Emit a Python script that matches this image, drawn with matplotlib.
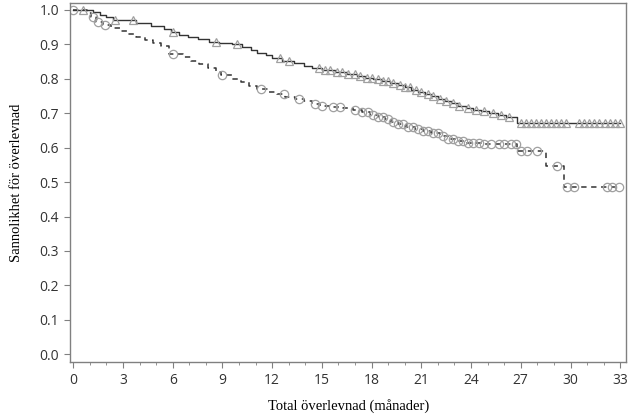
import numpy as np
import matplotlib.pyplot as plt

# group A (solid line, triangle censor marks): step times and survival after each step
a_times = [0, 1.2, 1.6, 2.0, 2.4, 3.8, 4.7, 5.5, 5.9, 6.4, 6.9, 7.5, 8.2, 8.8, 9.6,
           10.2, 10.7, 11.1, 11.6, 12.0, 12.6, 13.3, 13.9, 14.4, 15.0, 15.8, 16.5,
           17.1, 17.6, 18.1, 18.6, 19.1, 19.6, 20.0, 20.4, 20.8, 21.2, 21.6, 22.0,
           22.4, 22.8, 23.2, 23.7, 24.1, 24.6, 25.1, 25.6, 26.1, 26.8]
a_surv = [1.0, 0.993, 0.986, 0.979, 0.971, 0.962, 0.953, 0.944, 0.935, 0.928, 0.921,
          0.914, 0.908, 0.904, 0.9, 0.892, 0.884, 0.876, 0.868, 0.86, 0.852, 0.845,
          0.838, 0.832, 0.826, 0.82, 0.814, 0.808, 0.803, 0.798, 0.793, 0.788, 0.782,
          0.776, 0.768, 0.762, 0.755, 0.749, 0.742, 0.736, 0.729, 0.722, 0.716, 0.71,
          0.705, 0.7, 0.695, 0.688, 0.672]
a_end = 33.0
a_censor = [0.6, 2.5, 3.6, 6.0, 8.6, 9.9, 12.5, 13.0, 14.8, 15.2, 15.5, 15.9, 16.2,
            16.6, 17.0, 17.3, 17.7, 18.0, 18.4, 18.7, 19.0, 19.3, 19.7, 20.0, 20.3,
            20.7, 21.0, 21.4, 21.7, 22.1, 22.5, 22.9, 23.3, 23.8, 24.3, 24.8, 25.3,
            25.8, 26.3, 27.0, 27.3, 27.6, 27.9, 28.2, 28.5, 28.8, 29.1, 29.4, 29.7,
            30.5, 30.8, 31.1, 31.4, 31.7, 32.1, 32.4, 32.7, 33.0]

# group B (dashed line, circle censor marks)
b_times = [0, 0.8, 1.1, 1.4, 1.8, 2.3, 2.8, 3.3, 3.8, 4.3, 4.8, 5.3, 5.8, 6.6, 7.1,
           7.6, 8.1, 8.6, 8.9, 9.6, 10.1, 10.6, 11.1, 11.8, 12.3, 12.8, 13.4, 13.9,
           14.4, 14.9, 15.6, 16.3, 16.9, 17.4, 17.9, 18.4, 18.8, 19.2, 19.6, 20.1,
           20.6, 21.1, 21.6, 22.1, 22.6, 23.1, 23.6, 24.8, 26.8, 28.5, 29.6]
b_surv = [1.0, 0.99, 0.978, 0.966, 0.955, 0.947, 0.938, 0.93, 0.922, 0.913, 0.905,
          0.895, 0.872, 0.862, 0.852, 0.842, 0.832, 0.82, 0.81, 0.8, 0.79, 0.78,
          0.77, 0.762, 0.755, 0.748, 0.742, 0.735, 0.728, 0.722, 0.718, 0.714,
          0.708, 0.702, 0.696, 0.69, 0.683, 0.675, 0.668, 0.66, 0.654, 0.648,
          0.641, 0.634, 0.626, 0.618, 0.613, 0.61, 0.59, 0.546, 0.486]
b_end = 32.9
b_censor = [0.0, 1.2, 1.5, 1.9, 6.0, 9.0, 11.3, 12.7, 13.6, 14.6, 15.0, 15.7, 16.1,
            17.0, 17.4, 17.8, 18.1, 18.4, 18.7, 19.0, 19.3, 19.6, 19.9, 20.2, 20.5,
            20.8, 21.1, 21.4, 21.7, 22.0, 22.3, 22.6, 22.9, 23.2, 23.5, 23.8, 24.1,
            24.5, 24.8, 25.2, 25.7, 26.0, 26.4, 26.7, 27.0, 27.4, 28.0, 29.2, 29.8,
            30.2, 32.2, 32.5, 32.9]


def step_value(times, surv, t):
    idx = np.searchsorted(times, t, side='right') - 1
    return np.asarray(surv)[idx]


fig = plt.figure(figsize=(6.33, 4.16), dpi=100)
ax = fig.add_axes([0.111, 0.13, 0.878, 0.863])

line_col = '#333333'
mark_col = '#a0a0a0'

ax.step(a_times + [a_end], a_surv + [a_surv[-1]], where='post', color=line_col, lw=1.0)
ax.step(b_times + [b_end], b_surv + [b_surv[-1]], where='post', color=line_col, lw=1.1,
        linestyle=(0, (3.5, 3)))

ax.plot(a_censor, step_value(a_times, a_surv, a_censor), linestyle='none', marker='^',
        markersize=5.5, markerfacecolor='none', markeredgecolor=mark_col, markeredgewidth=0.9)
ax.plot(b_censor, step_value(b_times, b_surv, b_censor), linestyle='none', marker='o',
        markersize=6, markerfacecolor='none', markeredgecolor=mark_col, markeredgewidth=0.9)

ax.set_xlim(-0.18, 33.35)
ax.set_ylim(-0.022, 1.02)
ax.set_xticks(np.arange(0, 34, 3))
ax.set_xticks(np.arange(0, 34, 1), minor=True)
ax.set_yticks(np.arange(0, 1.01, 0.1))
ax.set_yticklabels(['%.1f' % v for v in np.arange(0, 1.01, 0.1)])

for s in ax.spines.values():
    s.set_color('#808080')
    s.set_linewidth(1.0)
ax.tick_params(which='major', length=4, color='#808080', labelcolor='#333333',
               labelsize=10, pad=4)
ax.tick_params(which='minor', length=2.5, color='#808080')
for lab in ax.get_xticklabels() + ax.get_yticklabels():
    lab.set_family('Open Sans')

ax.set_xlabel('Total överlevnad (månader)', family='Liberation Serif', fontsize=10.5,
              labelpad=8)
ax.set_ylabel('Sannolikhet för överlevnad', family='Liberation Serif', fontsize=10.5,
              labelpad=12)

fig.savefig('out.png', dpi=100)
